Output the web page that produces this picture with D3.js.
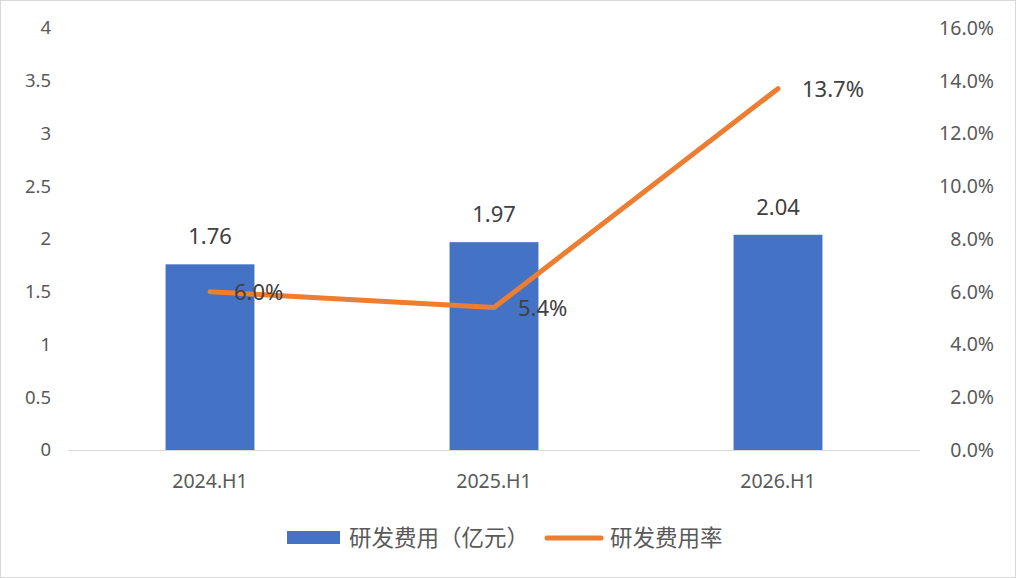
<!DOCTYPE html>
<html>
<head>
<meta charset="utf-8">
<script src="https://cdn.jsdelivr.net/npm/d3@7"></script>
<style>
  body { margin: 0; background: #fff; }
  svg { display: block; }
</style>
</head>
<body>
<svg id="chart" width="1016" height="578"></svg>
<script>
// chart values
const periods = ['2024.H1', '2025.H1', '2026.H1'];
const rdCost = [1.76, 1.97, 2.04];       // 研发费用（亿元）
const rdRate = [6.0, 5.4, 13.7];         // 研发费用率 (%)
const leftTicks = [0, 0.5, 1, 1.5, 2, 2.5, 3, 3.5, 4];
const rightTicks = [0, 2, 4, 6, 8, 10, 12, 14, 16];

const svg = d3.select('#chart');
const W = 1016, H = 578;
const fontNum = '"Noto Sans", "Noto Sans CJK SC", sans-serif';
const fontCjk = '"Noto Sans CJK SC", sans-serif';

// outer border
svg.append('rect')
    .attr('x', 0.5).attr('y', 0.5)
    .attr('width', W - 1).attr('height', H - 1)
    .attr('fill', '#fff')
    .attr('stroke', '#d9d9d9');

const plot = {left: 68, right: 920, top: 28, bottom: 450};

let x = d3.scaleBand()
    .domain(periods)
    .range([plot.left, plot.right])
    .paddingInner(0.687)
    .paddingOuter(0.3435);
let yL = d3.scaleLinear().domain([0, 4]).range([plot.bottom, plot.top]);
let yR = d3.scaleLinear().domain([0, 16]).range([plot.bottom, plot.top]);

// left axis labels
svg.append('g')
    .selectAll('text')
    .data(leftTicks)
    .enter()
    .append('text')
    .attr('x', 51)
    .attr('y', d => yL(d))
    .attr('dy', '0.35em')
    .attr('text-anchor', 'end')
    .attr('font-family', fontNum)
    .attr('font-size', 18.5)
    .attr('fill', '#595959')
    .text(d => d);

// right axis labels
svg.append('g')
    .selectAll('text')
    .data(rightTicks)
    .enter()
    .append('text')
    .attr('x', 994)
    .attr('y', d => yR(d))
    .attr('dy', '0.35em')
    .attr('text-anchor', 'end')
    .attr('font-family', fontNum)
    .attr('font-size', 19.5)
    .attr('fill', '#595959')
    .text(d => d.toFixed(1) + '%');

// bars
svg.append('g')
    .selectAll('rect')
    .data(rdCost)
    .enter()
    .append('rect')
    .attr('x', (d, i) => x(periods[i]))
    .attr('y', d => yL(d))
    .attr('width', x.bandwidth())
    .attr('height', d => yL(0) - yL(d))
    .attr('fill', '#4472c4');

// x axis baseline
svg.append('line')
    .attr('x1', plot.left).attr('x2', plot.right)
    .attr('y1', plot.bottom + 0.5).attr('y2', plot.bottom + 0.5)
    .attr('stroke', '#d9d9d9')
    .attr('stroke-width', 1);

// category labels
svg.append('g')
    .selectAll('text')
    .data(periods)
    .enter()
    .append('text')
    .attr('x', d => x(d) + x.bandwidth() / 2)
    .attr('y', 481)
    .attr('dy', '0.35em')
    .attr('text-anchor', 'middle')
    .attr('font-family', fontNum)
    .attr('font-size', 19.5)
    .attr('fill', '#595959')
    .text(d => d);

// bar value labels
svg.append('g')
    .selectAll('text')
    .data(rdCost)
    .enter()
    .append('text')
    .attr('x', (d, i) => x(periods[i]) + x.bandwidth() / 2)
    .attr('y', d => yL(d) - 20)
    .attr('text-anchor', 'middle')
    .attr('font-family', fontNum)
    .attr('font-size', 22)
    .attr('fill', '#404040')
    .text(d => d.toFixed(2));

// rate line
const line = d3.line()
    .x((d, i) => x(periods[i]) + x.bandwidth() / 2)
    .y(d => yR(d));

svg.append('path')
    .datum(rdRate)
    .attr('d', line)
    .attr('fill', 'none')
    .attr('stroke', '#ed7d31')
    .attr('stroke-width', 5)
    .attr('stroke-linecap', 'round')
    .attr('stroke-linejoin', 'round');

// line value labels
svg.append('g')
    .selectAll('text')
    .data(rdRate)
    .enter()
    .append('text')
    .attr('x', (d, i) => x(periods[i]) + x.bandwidth() / 2 + 24)
    .attr('y', d => yR(d) + 1)
    .attr('dy', '0.35em')
    .attr('font-family', fontNum)
    .attr('font-size', 22)
    .attr('fill', '#404040')
    .text(d => d.toFixed(1) + '%');

// legend
const legend = svg.append('g');
legend.append('rect')
    .attr('x', 287).attr('y', 531)
    .attr('width', 53).attr('height', 13)
    .attr('fill', '#4472c4');
legend.append('text')
    .attr('x', 349).attr('y', 538)
    .attr('dy', '0.35em')
    .attr('font-family', fontCjk)
    .attr('font-size', 22.5)
    .attr('fill', '#595959')
    .text('研发费用（亿元）');
legend.append('line')
    .attr('x1', 547).attr('x2', 601)
    .attr('y1', 538).attr('y2', 538)
    .attr('stroke', '#ed7d31')
    .attr('stroke-width', 5)
    .attr('stroke-linecap', 'round');
legend.append('text')
    .attr('x', 610).attr('y', 538)
    .attr('dy', '0.35em')
    .attr('font-family', fontCjk)
    .attr('font-size', 22.5)
    .attr('fill', '#595959')
    .text('研发费用率');
</script>
</body>
</html>
